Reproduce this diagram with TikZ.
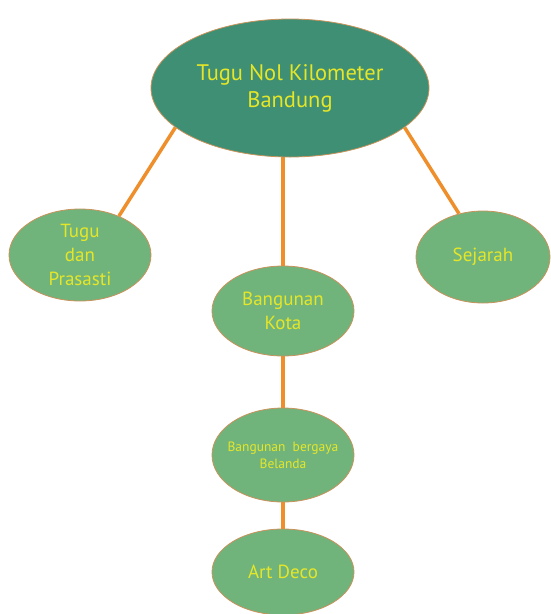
\documentclass[tikz,border=0pt]{standalone}
\usepackage{fontspec}
\setmainfont{PT Sans}
\usetikzlibrary{shapes.geometric,backgrounds}
\definecolor{topfill}{HTML}{3E8F74}
\definecolor{subfill}{HTML}{70B47C}
\definecolor{rimcol}{HTML}{C8925A}
\definecolor{txtcol}{HTML}{E6E628}
\definecolor{linkcol}{HTML}{EF8F2C}
\tikzset{
  topnode/.style={ellipse,draw=rimcol,line width=0.8pt,fill=topfill,inner sep=0pt,
    minimum width=278pt,minimum height=138pt,align=center,text=txtcol,
    font=\fontsize{22.5}{27}\selectfont},
  subnode/.style={ellipse,draw=rimcol,line width=0.8pt,fill=subfill,inner sep=0pt,
    minimum width=142pt,minimum height=92pt,align=center,text=txtcol,
    font=\fontsize{19}{24}\selectfont},
  link/.style={draw=linkcol,line width=3.5pt}
}
\begin{document}
\begin{tikzpicture}[x=1pt,y=-1pt]
\useasboundingbox (0,0) rectangle (550,614);
\node[topnode] (top) at (290,88) {Tugu Nol Kilometer\\Bandung};
\node[subnode] (left) at (80,255) {Tugu\\dan\\Prasasti};
\node[subnode,minimum width=134pt] (right) at (483,257) {Sejarah};
\node[subnode,minimum height=90pt] (mid) at (283,311) {Bangunan\\Kota};
\node[subnode,minimum height=94pt,inner xsep=-20pt,font=\fontsize{13.5}{17}\selectfont] (bel) at (283,455) {Bangunan\ \ bergaya\\Belanda};
\node[subnode,minimum height=86pt] (art) at (283,572) {Art Deco};
\begin{scope}[on background layer]
\draw[link] (top.199) -- (left.45);
\draw[link] (top.341) -- (right.119);
\draw[link] (mid.center |- top.center) -- (mid.center);
\draw[link] (mid.center) -- (bel.center);
\draw[link] (bel.center) -- (art.center);
\end{scope}
\end{tikzpicture}
\end{document}
